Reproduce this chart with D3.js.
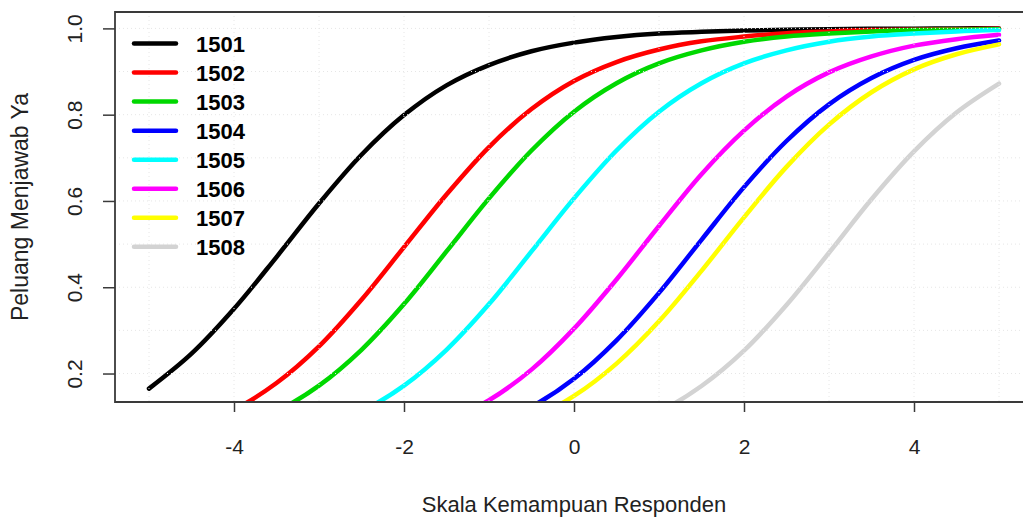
<!DOCTYPE html>
<html>
<head>
<meta charset="utf-8">
<script src="https://cdn.jsdelivr.net/npm/d3@7"></script>
<style>
  html, body { margin: 0; padding: 0; background: #fff; }
  svg { display: block; }
  text { font-family: "Liberation Sans", Arial, sans-serif; }
</style>
</head>
<body>
<svg id="chart" width="1023" height="518"></svg>
<script>
// ---- data ----
const theta = [-5, -4.5, -4, -3.5, -3, -2.5, -2, -1.5, -1, -0.5, 0, 0.5, 1, 1.5, 2, 2.5, 3, 3.5, 4, 4.5, 5];
const items = ["1501", "1502", "1503", "1504", "1505", "1506", "1507", "1508"];
const colors = ["#000000", "#FF0000", "#00D800", "#0000FF", "#00FFFF", "#FF00FF", "#FFFF00", "#D3D3D3"];
const p1501 = [0.165, 0.246, 0.350, 0.470, 0.594, 0.707, 0.799, 0.868, 0.915, 0.947, 0.967, 0.980, 0.988, 0.992, 0.995, 0.997, 0.998, 0.999, 0.999, 1.000, 1.000];
const p1502 = [0.046, 0.074, 0.116, 0.178, 0.263, 0.371, 0.493, 0.615, 0.725, 0.813, 0.878, 0.922, 0.951, 0.970, 0.981, 0.989, 0.993, 0.996, 0.997, 0.998, 0.999];
const p1503 = [0.027, 0.044, 0.071, 0.112, 0.172, 0.255, 0.361, 0.483, 0.606, 0.717, 0.807, 0.873, 0.919, 0.949, 0.969, 0.981, 0.988, 0.993, 0.996, 0.997, 0.998];
const p1504 = [0.002, 0.003, 0.004, 0.007, 0.011, 0.019, 0.030, 0.049, 0.079, 0.123, 0.188, 0.277, 0.387, 0.510, 0.632, 0.739, 0.824, 0.885, 0.927, 0.954, 0.972];
const p1505 = [0.010, 0.017, 0.027, 0.044, 0.071, 0.112, 0.172, 0.255, 0.361, 0.483, 0.606, 0.717, 0.807, 0.873, 0.919, 0.949, 0.969, 0.981, 0.988, 0.993, 0.996];
const p1506 = [0.003, 0.005, 0.008, 0.013, 0.021, 0.035, 0.056, 0.089, 0.138, 0.209, 0.304, 0.418, 0.542, 0.662, 0.763, 0.842, 0.898, 0.935, 0.960, 0.975, 0.985];
const p1507 = [0.001, 0.002, 0.003, 0.005, 0.009, 0.014, 0.023, 0.037, 0.060, 0.095, 0.148, 0.223, 0.321, 0.438, 0.562, 0.679, 0.777, 0.852, 0.905, 0.940, 0.963];
const p1508 = [0.000, 0.001, 0.001, 0.001, 0.002, 0.004, 0.006, 0.010, 0.017, 0.027, 0.044, 0.070, 0.111, 0.171, 0.253, 0.359, 0.480, 0.604, 0.715, 0.805, 0.872];
const xTicks = [-4, -2, 0, 2, 4];
const yTicks = [0.2, 0.4, 0.6, 0.8, 1.0];
const xGrid = [-5, -4, -3, -2, -1, 0, 1, 2, 3, 4, 5];
const yGrid = [0.2, 0.3, 0.4, 0.5, 0.6, 0.7, 0.8, 0.9, 1.0];
const xLabel = "Skala Kemampuan Responden";
const yLabel = "Peluang Menjawab Ya";

const seriesValues = [p1501, p1502, p1503, p1504, p1505, p1506, p1507, p1508];

// ---- layout ----
const plot = { left: 115, top: 12, right: 1033, bottom: 402 };
const svg = d3.select("#chart");

const x = d3.scaleLinear().domain([-5.4, 5.4]).range([plot.left, plot.right]);
const y = d3.scaleLinear().domain([0.134, 1.038]).range([plot.bottom, plot.top]);

svg.append("defs").append("clipPath").attr("id", "clip")
  .append("rect")
  .attr("x", plot.left).attr("y", plot.top)
  .attr("width", plot.right - plot.left).attr("height", plot.bottom - plot.top);

// curves
const line = d3.line()
  .x((d, i) => x(theta[i]))
  .y(d => y(d))
  .curve(d3.curveCatmullRom.alpha(0.5));

const curves = svg.append("g").attr("clip-path", "url(#clip)");
seriesValues.forEach((vals, k) => {
  curves.append("path")
    .attr("d", line(vals))
    .attr("fill", "none")
    .attr("stroke", colors[k])
    .attr("stroke-width", 4.5)
    .attr("stroke-linecap", "round")
    .attr("stroke-linejoin", "round");
});

// grid (drawn on top, very light dotted)
const grid = svg.append("g").attr("clip-path", "url(#clip)")
  .attr("stroke", "#e6e6e6").attr("stroke-width", 1).attr("stroke-dasharray", "1,3");
grid.selectAll("line.gx").data(xGrid).join("line")
  .attr("x1", d => x(d)).attr("x2", d => x(d))
  .attr("y1", plot.top).attr("y2", plot.bottom);
grid.selectAll("line.gy").data(yGrid).join("line")
  .attr("x1", plot.left).attr("x2", plot.right)
  .attr("y1", d => y(d)).attr("y2", d => y(d));

// axes
const axisColor = "#3a3a3a";
const xAxis = svg.append("g")
  .attr("transform", `translate(0,${plot.bottom})`)
  .call(d3.axisBottom(x).tickValues(xTicks).tickSize(10).tickPadding(0).tickFormat(d3.format("d")));
xAxis.select(".domain").remove();
xAxis.selectAll(".tick line").attr("stroke", axisColor).attr("stroke-width", 1.5);
xAxis.selectAll(".tick text")
  .attr("y", 52).attr("dy", null)
  .attr("font-size", 21).attr("fill", "#222")
  .text(d => d < 0 ? "-" + Math.abs(d) : String(d));

const yAxis = svg.append("g")
  .attr("transform", `translate(${plot.left},0)`)
  .call(d3.axisLeft(y).tickValues(yTicks).tickSize(12).tickFormat(d3.format(".1f")));
yAxis.select(".domain").remove();
yAxis.selectAll(".tick line").attr("stroke", axisColor).attr("stroke-width", 1.5);
yAxis.selectAll(".tick text")
  .attr("x", null).attr("dy", null)
  .attr("text-anchor", "middle")
  .attr("transform", "translate(-33,0) rotate(-90)")
  .attr("font-size", 21).attr("fill", "#222");

// box (left, top, bottom; right edge lies outside the picture)
svg.append("path")
  .attr("d", `M${1023},${plot.top}H${plot.left}V${plot.bottom}H${1023}`)
  .attr("fill", "none").attr("stroke", axisColor).attr("stroke-width", 1.8);

// axis titles
svg.append("text")
  .attr("x", x(0)).attr("y", 512)
  .attr("text-anchor", "middle").attr("font-size", 22).attr("fill", "#222")
  .text(xLabel);
svg.append("text")
  .attr("transform", `translate(28,${(plot.top + plot.bottom) / 2}) rotate(-90)`)
  .attr("text-anchor", "middle").attr("font-size", 23).attr("fill", "#222")
  .text(yLabel);

// legend
const legend = svg.append("g");
items.forEach((name, k) => {
  const cy = 43.5 + k * 29.05;
  legend.append("line")
    .attr("x1", 134).attr("x2", 176).attr("y1", cy).attr("y2", cy)
    .attr("stroke", colors[k]).attr("stroke-width", 4.5).attr("stroke-linecap", "round");
  legend.append("text")
    .attr("x", 196).attr("y", cy + 8)
    .attr("font-size", 22).attr("font-weight", "bold").attr("fill", "#000")
    .text(name);
});
</script>
</body>
</html>
